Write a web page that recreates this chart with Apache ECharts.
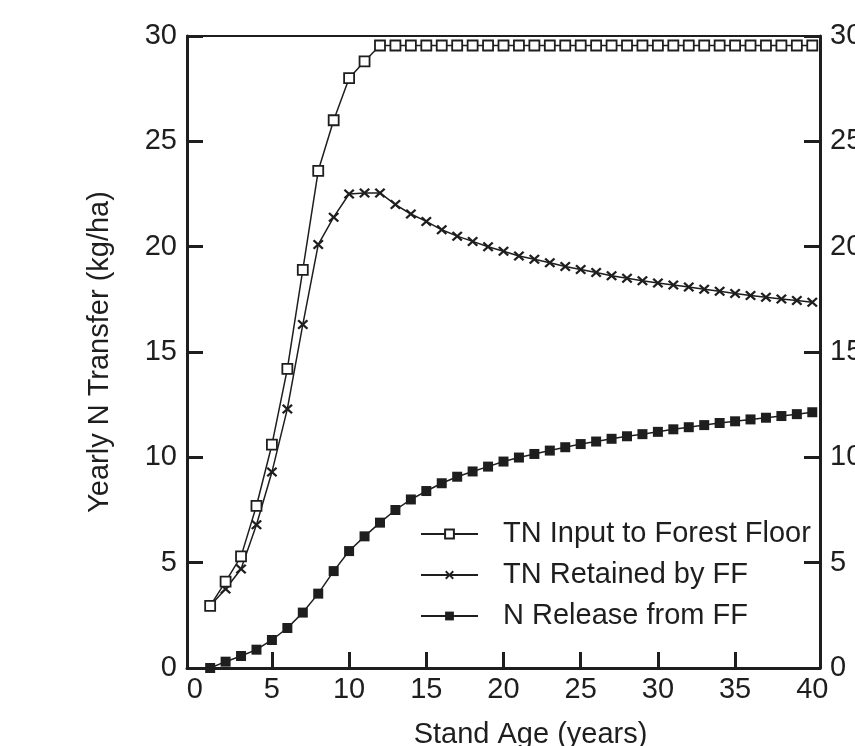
<!DOCTYPE html>
<html>
<head>
<meta charset="utf-8">
<script src="https://cdn.jsdelivr.net/npm/echarts@6/dist/echarts.min.js"></script>
<style>
  html, body { margin: 0; padding: 0; background: #fff; }
  #main { width: 855px; height: 746px; }
</style>
</head>
<body>
<div id="main"></div>
<script>
// stand age (years)
var ages = [];
for (var a = 1; a <= 40; a++) ages.push(a);

// TN input to forest floor
var tnInput = [2.95, 4.1, 5.3, 7.7, 10.6, 14.2, 18.9, 23.6, 26.0, 28.0, 28.8,
  29.55, 29.55, 29.55, 29.55, 29.55, 29.55, 29.55, 29.55, 29.55, 29.55, 29.55, 29.55, 29.55, 29.55,
  29.55, 29.55, 29.55, 29.55, 29.55, 29.55, 29.55, 29.55, 29.55, 29.55, 29.55, 29.55, 29.55, 29.55, 29.55];

// TN retained by FF
var tnRetained = [2.95, 3.75, 4.7, 6.8, 9.3, 12.3, 16.3, 20.1, 21.4, 22.5, 22.55, 22.55, 22.0, 21.55,
  21.2, 20.8, 20.5, 20.25, 20.0, 19.78, 19.56, 19.4, 19.24, 19.06, 18.92, 18.77, 18.62, 18.5,
  18.38, 18.28, 18.18, 18.08, 17.98, 17.88, 17.78, 17.68, 17.6, 17.52, 17.45, 17.36];

// N release from FF
var nRelease = [0.0, 0.3, 0.57, 0.87, 1.33, 1.9, 2.63, 3.53, 4.6, 5.55, 6.25, 6.9, 7.5, 8.0,
  8.4, 8.77, 9.08, 9.33, 9.56, 9.8, 9.99, 10.16, 10.32, 10.48, 10.63, 10.75, 10.88, 11.0,
  11.1, 11.21, 11.33, 11.43, 11.53, 11.63, 11.71, 11.8, 11.88, 11.96, 12.05, 12.14];

var xTicks = [5, 10, 15, 20, 25, 30, 35];
var xLabels = [0, 5, 10, 15, 20, 25, 30, 35, 40];

var seriesNames = ['TN Input to Forest Floor', 'TN Retained by FF', 'N Release from FF'];

function pairs(vals) {
  return vals.map(function (v, i) { return [ages[i], v]; });
}

var ink = '#1e1e1e';
var font = "'Liberation Sans', Arial, sans-serif";
var crossPath = 'path://M0,1.5L1.5,0L5,3.5L8.5,0L10,1.5L6.5,5L10,8.5L8.5,10L5,6.5L1.5,10L0,8.5L3.5,5Z';

var myChart = echarts.init(document.getElementById('main'));

var option = {
  backgroundColor: '#fff',
  animation: false,
  textStyle: { fontFamily: font, color: ink },
  grid: { left: 187, right: 35, top: 36, bottom: 78, containLabel: false, outerBoundsMode: 'none' },
  legend: {
    orient: 'vertical',
    left: 415,
    top: 514,
    itemWidth: 57,
    itemHeight: 11,
    itemGap: 11,
    textStyle: { fontSize: 29, color: ink, fontFamily: font, lineHeight: 30, padding: [0, 0, 0, 20] },
    data: seriesNames
  },
  xAxis: [{
    type: 'value',
    min: -0.5,
    max: 40.5,
    name: 'Stand Age (years)',
    nameLocation: 'middle',
    nameGap: 52,
    nameTextStyle: { fontSize: 29, color: ink, padding: [0, 0, 0, 54] },
    splitLine: { show: false },
    axisLine: { show: true, lineStyle: { color: ink, width: 3 } },
    axisTick: { show: true, inside: true, length: 16, lineStyle: { color: ink, width: 3 }, customValues: xTicks },
    axisLabel: { fontSize: 29, color: ink, margin: 7, customValues: xLabels }
  }, {
    type: 'value',
    position: 'top',
    min: -0.5,
    max: 40.5,
    splitLine: { show: false },
    axisLine: { show: true, onZero: false, lineStyle: { color: ink, width: 2 } },
    axisTick: { show: false },
    axisLabel: { show: false }
  }],
  yAxis: [{
    type: 'value',
    min: 0,
    max: 30,
    interval: 5,
    name: 'Yearly N Transfer (kg/ha)',
    nameLocation: 'middle',
    nameGap: 73,
    nameTextStyle: { fontSize: 29, color: ink },
    splitLine: { show: false },
    axisLine: { show: true, onZero: false, lineStyle: { color: ink, width: 3 } },
    axisTick: { show: true, inside: true, length: 16, lineStyle: { color: ink, width: 3 } },
    axisLabel: { fontSize: 29, color: ink, margin: 10 }
  }, {
    type: 'value',
    position: 'right',
    min: 0,
    max: 30,
    interval: 5,
    splitLine: { show: false },
    axisLine: { show: true, onZero: false, lineStyle: { color: ink, width: 3 } },
    axisTick: { show: true, inside: true, length: 16, lineStyle: { color: ink, width: 3 } },
    axisLabel: { fontSize: 29, color: ink, margin: 10 }
  }],
  series: [
    {
      name: seriesNames[0],
      type: 'line',
      data: pairs(tnInput),
      symbol: 'rect',
      symbolSize: 10,
      showAllSymbol: true,
      lineStyle: { color: ink, width: 1.5 },
      itemStyle: { color: '#fff', borderColor: ink, borderWidth: 1.8 },
      z: 3
    },
    {
      name: seriesNames[1],
      type: 'line',
      data: pairs(tnRetained),
      symbol: crossPath,
      symbolSize: [11, 10],
      showAllSymbol: true,
      lineStyle: { color: ink, width: 1.5 },
      itemStyle: { color: ink },
      z: 2
    },
    {
      name: seriesNames[2],
      type: 'line',
      data: pairs(nRelease),
      symbol: 'rect',
      symbolSize: 10,
      showAllSymbol: true,
      lineStyle: { color: ink, width: 1.5 },
      itemStyle: { color: ink },
      z: 2
    }
  ]
};

myChart.setOption(option);
</script>
</body>
</html>
